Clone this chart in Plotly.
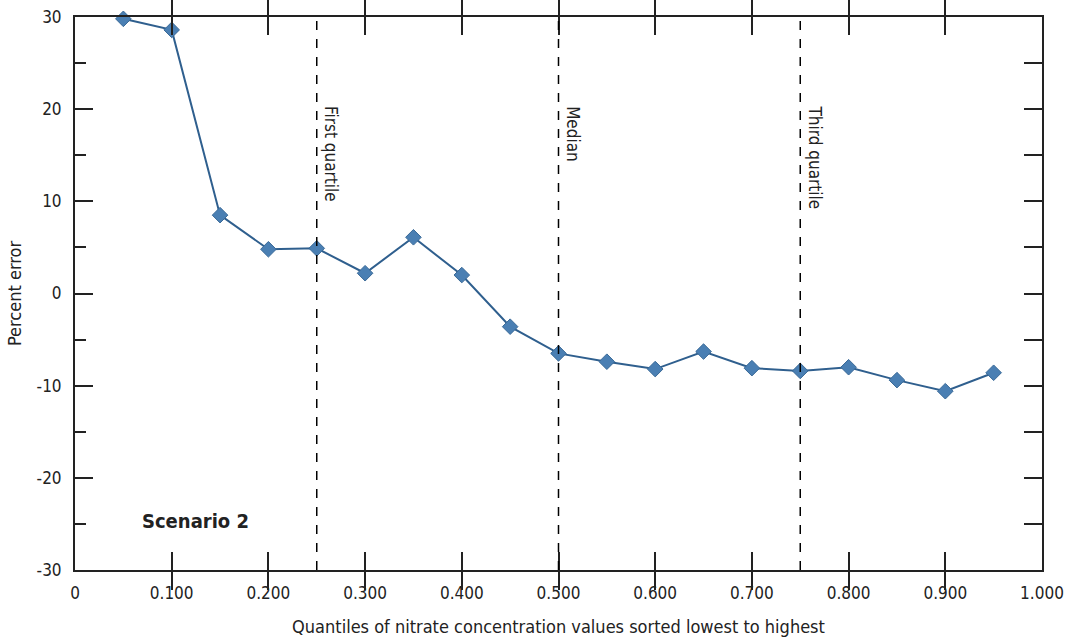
import plotly.graph_objects as go

quantiles = [0.05, 0.10, 0.15, 0.20, 0.25, 0.30, 0.35, 0.40, 0.45, 0.50,
             0.55, 0.60, 0.65, 0.70, 0.75, 0.80, 0.85, 0.90, 0.95]
percent_error = [29.8, 28.6, 8.5, 4.8, 4.9, 2.2, 6.1, 2.0, -3.6, -6.5,
                 -7.4, -8.2, -6.3, -8.1, -8.4, -8.0, -9.4, -10.6, -8.6]

x_tickvals = [0, 0.1, 0.2, 0.3, 0.4, 0.5, 0.6, 0.7, 0.8, 0.9, 1.0]
x_ticktext = ["0", "0.100", "0.200", "0.300", "0.400", "0.500", "0.600",
              "0.700", "0.800", "0.900", "1.000"]
y_tickvals = [30, 20, 10, 0, -10, -20, -30]
y_ticktext = ["30", "20", "10", "0", "-10", "-20", "-30"]

quartile_pos = [0.25, 0.50, 0.75]
quartile_labels = ["First quartile", "Median", "Third quartile"]

FONT = "DejaVu Sans Condensed, Liberation Sans Narrow, sans-serif"

fig = go.Figure()

fig.add_trace(go.Scatter(
    x=quantiles, y=percent_error, mode="lines+markers",
    line=dict(color="#2f5f8e", width=2),
    marker=dict(symbol="diamond", size=12, color="#4a7fb3",
                line=dict(color="#3a6a98", width=1)),
    cliponaxis=False, showlegend=False,
))

# empty trace to activate the right-hand tick axis
fig.add_trace(go.Scatter(x=[], y=[], yaxis="y2", showlegend=False))

for xp, lab in zip(quartile_pos, quartile_labels):
    fig.add_shape(type="line", xref="x", yref="paper", x0=xp, x1=xp, y0=0, y1=1,
                  line=dict(color="black", width=1.5, dash="dash"))
    fig.add_annotation(x=xp, y=20.6, xref="x", yref="y", text=lab,
                       textangle=90, showarrow=False, xanchor="left",
                       yanchor="top", xshift=3,
                       font=dict(family=FONT, size=17, color="#222"))

fig.add_annotation(x=0.067, y=-24.7, xref="x", yref="y", text="<b>Scenario 2</b>",
                   showarrow=False, xanchor="left", yanchor="middle",
                   font=dict(family=FONT, size=20, color="#222"))

fig.update_layout(
    width=1066, height=642,
    margin=dict(l=75, r=24, t=17, b=72),
    paper_bgcolor="white", plot_bgcolor="white",
    font=dict(family=FONT, size=17, color="#222"),
    xaxis=dict(
        range=[0, 1], tickvals=x_tickvals, ticktext=x_ticktext,
        ticks="inside", ticklen=18, tickwidth=2, tickcolor="#222",
        showline=True, linecolor="#222", linewidth=2, mirror="allticks",
        showgrid=False, zeroline=False, automargin=False,
        ticklabelstandoff=7,
        title=dict(text="Quantiles of nitrate concentration values sorted lowest to highest",
                   font=dict(size=18), standoff=18),
        tickfont=dict(size=17),
    ),
    yaxis=dict(
        range=[-30, 30], tickvals=y_tickvals, ticktext=y_ticktext,
        ticks="inside", ticklen=18, tickwidth=2, tickcolor="#222",
        minor=dict(dtick=5, ticks="inside", ticklen=11, tickwidth=2, tickcolor="#222"),
        showline=True, linecolor="#222", linewidth=2, mirror=True,
        showgrid=False, zeroline=False, automargin=False,
        ticklabelstandoff=8,
        title=dict(text="Percent error", font=dict(size=18), standoff=10),
        tickfont=dict(size=17),
    ),
    yaxis2=dict(
        range=[-30, 30], overlaying="y", side="right", dtick=5,
        ticks="inside", ticklen=18, tickwidth=2, tickcolor="#222",
        showticklabels=False, showgrid=False, zeroline=False, showline=False,
        automargin=False,
    ),
)

fig.write_html("out.html")
